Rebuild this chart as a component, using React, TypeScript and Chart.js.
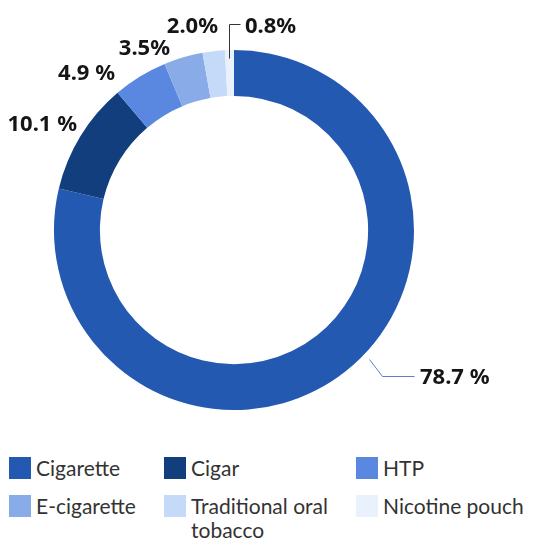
import React, { useEffect, useRef } from "react";
import { Chart, registerables } from "chart.js";

Chart.register(...registerables);

const categories = ["Cigarette", "Cigar", "HTP", "E-cigarette", "Traditional oral tobacco", "Nicotine pouch"];
const shares = [78.7, 10.1, 4.9, 3.5, 2.0, 0.8];
const valueLabels = ["78.7 %", "10.1 %", "4.9 %", "3.5%", "2.0%", "0.8%"];
const colors = ["#2459B2", "#123E7D", "#5A87E0", "#89ABE8", "#C5DAF8", "#E9F1FC"];

// label layout relative to doughnut centre (px)
const labelLayout = [
  { dx: 186, dy: 146, align: "left", leader: [[135, 129], [148, 146], [180, 146]], leaderColor: "#5B7FD0" },
  { dx: -157, dy: -107, align: "right" },
  { dx: -119, dy: -158, align: "right" },
  { dx: -64, dy: -183, align: "right" },
  { dx: -16, dy: -205, align: "right" },
  { dx: 11, dy: -205, align: "left", leader: [[-5, -172], [-5, -206], [6, -206]], leaderColor: "#333333" },
];

const labelPlugin = {
  id: "sliceLabels",
  afterDraw(chart: any) {
    const ctx = chart.ctx;
    const meta = chart.getDatasetMeta(0);
    if (!meta.data.length) return;
    const arc = meta.data[0];
    const cx = arc.x;
    const cy = arc.y;
    ctx.save();
    meta.data.forEach((_: any, i: number) => {
      const l: any = labelLayout[i];
      if (l.leader) {
        ctx.beginPath();
        ctx.strokeStyle = l.leaderColor;
        ctx.lineWidth = 1;
        l.leader.forEach((p: number[], k: number) => {
          const x = Math.round(cx + p[0]) + 0.5;
          const y = Math.round(cy + p[1]) + 0.5;
          if (k === 0) ctx.moveTo(x, y);
          else ctx.lineTo(x, y);
        });
        ctx.stroke();
      }
      ctx.font = "bold 22px 'Noto Sans'";
      ctx.fillStyle = "#151515";
      ctx.textAlign = l.align;
      ctx.textBaseline = "alphabetic";
      ctx.fillText(valueLabels[i], cx + l.dx, cy + l.dy + 8);
    });
    ctx.restore();
  },
};

function Legend() {
  const colW = [155, 192, 200];
  return (
    <div
      style={{
        position: "absolute",
        left: 1,
        top: 449,
        width: 546,
        display: "grid",
        gridTemplateColumns: colW.map((w) => w + "px").join(" "),
        rowGap: 15,
        fontFamily: "Lato, 'Noto Sans', sans-serif",
        fontSize: 21,
        lineHeight: "24px",
        color: "#333",
      }}
    >
      {categories.map((c, i) => (
        <div key={c} style={{ display: "flex", alignItems: "flex-start" }}>
          <div style={{ width: 22, height: 22, background: colors[i], flex: "none", marginRight: 5 }} />
          <div style={{ whiteSpace: i === 5 ? "nowrap" : "normal", maxWidth: 160, marginTop: -1 }}>{c}</div>
        </div>
      ))}
    </div>
  );
}

export default function App() {
  const ref = useRef<HTMLCanvasElement | null>(null);
  useEffect(() => {
    if (!ref.current) return;
    const chart = new Chart(ref.current, {
      type: "doughnut",
      data: {
        labels: categories,
        datasets: [
          {
            data: shares,
            backgroundColor: colors,
            borderWidth: 0,
          },
        ],
      },
      options: {
        responsive: false,
        animation: false,
        cutout: "74.5%",
        layout: { padding: { left: 46, right: 132, top: 42, bottom: 38 } },
        plugins: {
          legend: { display: false },
          tooltip: { enabled: false },
        },
      },
      plugins: [labelPlugin],
    });
    return () => chart.destroy();
  }, []);
  return (
    <div style={{ position: "relative", width: 546, height: 532, overflow: "hidden" }}>
      <canvas ref={ref} width={538} height={440} style={{ position: "absolute", left: 0, top: 0 }} />
      <Legend />
    </div>
  );
}
